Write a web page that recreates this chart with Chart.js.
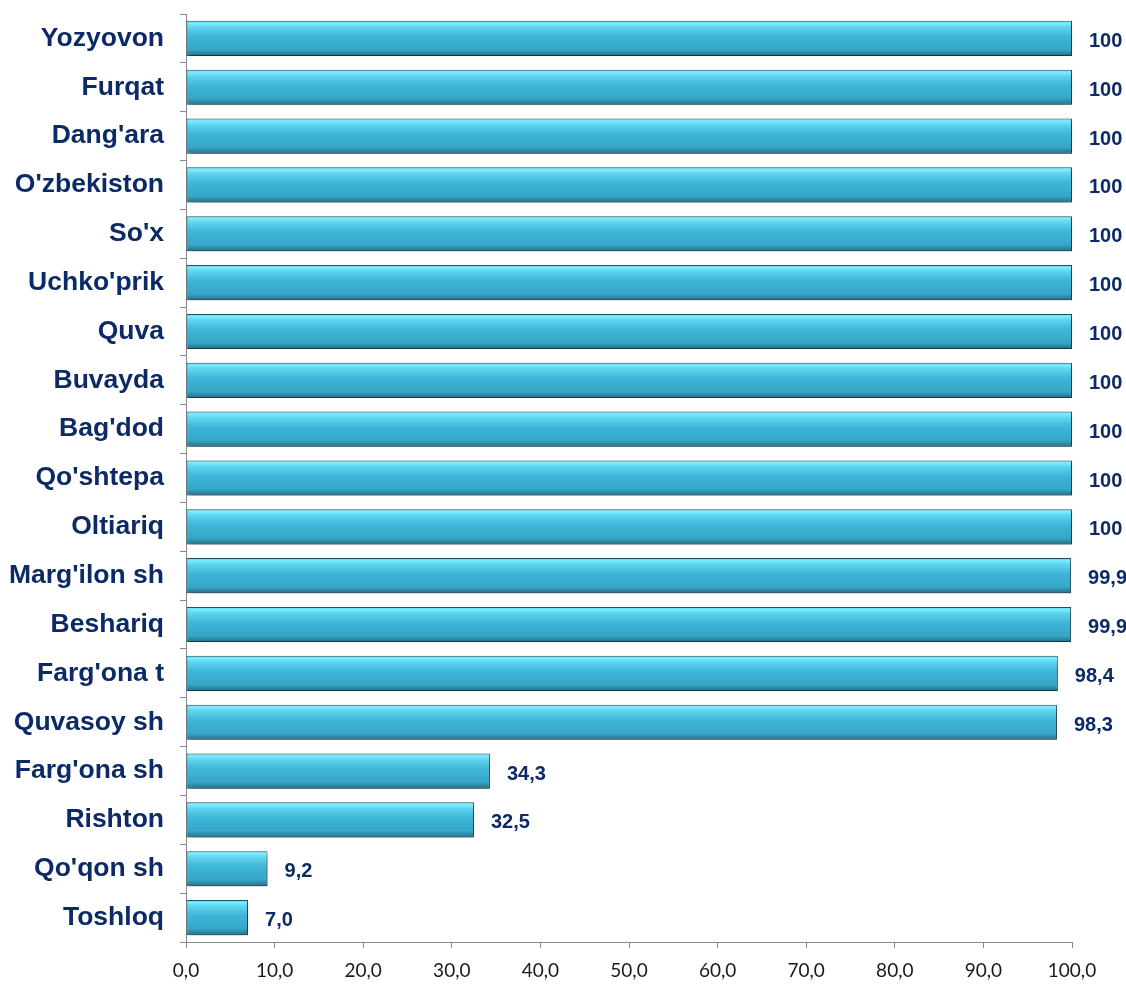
<!DOCTYPE html>
<html><head><meta charset="utf-8">
<script src="https://cdn.jsdelivr.net/npm/chart.js@4/dist/chart.umd.min.js"></script>
<style>html,body{margin:0;padding:0;background:#fff}#wrap{width:1126px;height:1000px}</style>
</head><body><div id="wrap"><canvas id="c" width="1126" height="1000"></canvas></div>
<script>
const categories = ["Yozyovon","Furqat","Dang'ara","O'zbekiston","So'x","Uchko'prik","Quva","Buvayda","Bag'dod","Qo'shtepa","Oltiariq","Marg'ilon sh","Beshariq","Farg'ona t","Quvasoy sh","Farg'ona sh","Rishton","Qo'qon sh","Toshloq"];
const values = [100,100,100,100,100,100,100,100,100,100,100,99.9,99.9,98.4,98.3,34.3,32.5,9.2,7.0];
const xTicks = [0,10,20,30,40,50,60,70,80,90,100];

const navy = '#0b2a66';
function fmtLabel(v){ return v === 100 ? '100' : v.toFixed(1).replace('.', ','); }

function barFill(ctx){
  const chart = ctx.chart;
  const ys = chart.scales.y;
  if (!ys || ctx.dataIndex === undefined) return '#3ab0d4';
  const c = ys.getPixelForValue(ctx.dataIndex);
  if (!isFinite(c)) return '#3ab0d4';
  const h = 35;
  const g = chart.ctx.createLinearGradient(0, c - h/2, 0, c + h/2);
  g.addColorStop(0, '#4cc0de');
  g.addColorStop(0.06, '#7eeeff');
  g.addColorStop(0.18, '#5fd4ef');
  g.addColorStop(0.45, '#3eb5d8');
  g.addColorStop(0.82, '#37a6c7');
  g.addColorStop(1, '#246f86');
  return g;
}

const shadowPlugin = {
  id: 'shadow',
  beforeDatasetsDraw(chart){ const c = chart.ctx; c.save(); c.shadowColor = 'rgba(0,0,0,0.4)'; c.shadowBlur = 6; c.shadowOffsetX = 2; c.shadowOffsetY = 5; },
  afterDatasetsDraw(chart){ chart.ctx.restore(); }
};
const labelPlugin = {
  id: 'vlabels',
  afterDatasetsDraw(chart){
    const c = chart.ctx; const meta = chart.getDatasetMeta(0);
    c.save();
    c.font = 'bold 20px "Liberation Sans", Arial, sans-serif';
    c.fillStyle = navy; c.textAlign = 'left'; c.textBaseline = 'middle';
    meta.data.forEach((el, i) => { c.fillText(fmtLabel(values[i]), el.x + 17, el.y + 3); });
    c.restore();
  }
};

new Chart(document.getElementById('c'), {
  type: 'bar',
  data: { labels: categories, datasets: [{ data: values, backgroundColor: barFill, borderColor: '#1b5568', borderWidth: 1, borderSkipped: false, barPercentage: 0.72, categoryPercentage: 1 }] },
  options: {
    indexAxis: 'y', responsive: false, animation: false,
    layout: { padding: { top: 14, right: 54, left: 0, bottom: 0 } },
    plugins: { legend: { display: false }, tooltip: { enabled: false } },
    scales: {
      x: {
        min: 0, max: 100,
        afterBuildTicks(s){ s.ticks = xTicks.map(v => ({ value: v })); },
        afterFit(s){ s.height = 58; s.paddingLeft = 0; s.paddingRight = 0; },
        ticks: { callback: v => v.toFixed(1).replace('.', ','), color: '#1a1a1a', font: { family: 'Lato, "Open Sans", sans-serif', size: 19 }, padding: 11, maxRotation: 0 },
        grid: { drawOnChartArea: false, tickLength: 6, color: '#8a8a8a', tickColor: '#8a8a8a' },
        border: { color: '#8a8a8a', width: 1 }
      },
      y: {
        afterFit(s){ s.width = 186; s.paddingTop = 0; s.paddingBottom = 0; },
        ticks: { color: navy, font: { family: '"Liberation Sans", Arial, sans-serif', size: 26.5, weight: 'bold' }, padding: 16 },
        grid: { offset: true, drawOnChartArea: false, tickLength: 6, color: '#8a8a8a', tickColor: '#8a8a8a' },
        border: { color: '#8a8a8a', width: 1 }
      }
    }
  },
  plugins: [shadowPlugin, labelPlugin]
});
</script></body></html>
